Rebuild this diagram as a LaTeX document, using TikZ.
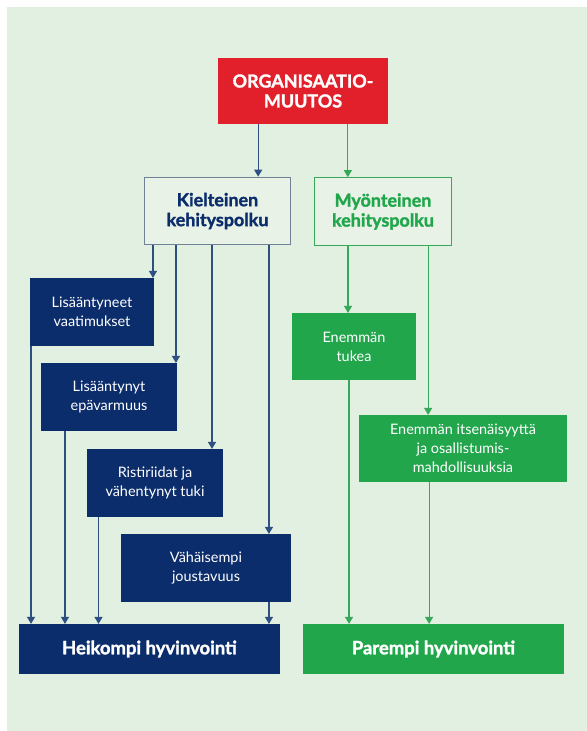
\documentclass[tikz,border=0pt]{standalone}
\usepackage{fontspec}
\setmainfont{Lato}
\newfontfamily\heavyfont{Lato}[BoldFeatures={FakeBold=1.5}]
\usetikzlibrary{arrows.meta}
\definecolor{navy}{HTML}{0C2D6B}
\definecolor{leaf}{HTML}{22A64C}
\definecolor{alarm}{HTML}{E1202B}
\definecolor{paper}{HTML}{E1F0E0}
\definecolor{pale}{HTML}{E8F2E7}
\definecolor{slate}{HTML}{6F8296}
\definecolor{navyline}{HTML}{2E4F82}
\definecolor{leafline}{HTML}{36A85A}
\begin{document}
\begin{tikzpicture}[x=1bp,y=-1bp,>={Triangle[length=7pt,width=8pt]},
  box/.style={rectangle, inner sep=0pt, align=center, text=white, font=\fontsize{14.5}{19}\selectfont},
  navybox/.style={box, fill=navy},
  leafbox/.style={box, fill=leaf},
  pathbox/.style={box, fill=pale, line width=1pt, font=\heavyfont\bfseries\fontsize{18}{20}\selectfont},
  endbox/.style={box, minimum width=261, minimum height=50, font=\heavyfont\bfseries\fontsize{18.5}{18}\selectfont},
  navyarrow/.style={->, navyline, line width=1.1pt},
  leafarrow/.style={->, leafline, line width=1.1pt}]
\useasboundingbox (0,0) rectangle (587,731);
\fill[paper] (7,7) rectangle (587,731);
\node[box, fill=alarm, minimum width=170, minimum height=66, font=\heavyfont\bfseries\fontsize{18}{20}\selectfont] (muutos) at (303,91) {ORGANISAATIO-\\MUUTOS};
\node[pathbox, draw=slate, text=navy, minimum width=147, minimum height=68] (kiel) at (217.5,211) {Kielteinen\\kehityspolku};
\node[pathbox, draw=leafline, text=leaf, minimum width=138, minimum height=68] (myon) at (383,211.5) {Myönteinen\\kehityspolku};
% kielteinen polku
\node[navybox, minimum width=124, minimum height=68] (vaat) at (92,312) {Lisääntyneet\\vaatimukset};
\node[navybox, minimum width=136, minimum height=68] (epav) at (109,397) {Lisääntynyt\\epävarmuus};
\node[navybox, minimum width=136, minimum height=68] (rist) at (155,483) {Ristiriidat ja\\vähentynyt tuki};
\node[navybox, minimum width=170, minimum height=68] (jous) at (206,568) {Vähäisempi\\joustavuus};
\node[endbox, fill=navy] (heik) at (149.5,649) {Heikompi hyvinvointi};
% myönteinen polku
\node[leafbox, minimum width=124, minimum height=67] (tuki) at (354,346.5) {Enemmän\\tukea};
\node[leafbox, minimum width=208, minimum height=67] (itse) at (463,448.5) {Enemmän itsenäisyyttä\\ja osallistumis-\\mahdollisuuksia};
\node[endbox, fill=leaf] (pare) at (433.5,649) {Parempi hyvinvointi};
\draw[navyarrow] ([xshift=-45]muutos.south) -- ([xshift=-45]muutos.south |- kiel.north);
\draw[leafarrow] ([xshift=45]muutos.south) -- ([xshift=45]muutos.south |- myon.north);
\draw[navyarrow] ([xshift=-1]vaat.north east |- kiel.south) -- ([xshift=-1]vaat.north east);
\draw[navyarrow] ([xshift=-1]epav.north east |- kiel.south) -- ([xshift=-1]epav.north east);
\draw[navyarrow] ([xshift=-11]rist.north east |- kiel.south) -- ([xshift=-11]rist.north east);
\draw[navyarrow] ([xshift=-22]jous.north east |- kiel.south) -- ([xshift=-22]jous.north east);
\draw[navyarrow] ([xshift=1]vaat.south west) -- ([xshift=1]vaat.south west |- heik.north);
\draw[navyarrow] ([xshift=24]epav.south west) -- ([xshift=24]epav.south west |- heik.north);
\draw[navyarrow] ([xshift=11.5]rist.south west) -- ([xshift=11.5]rist.south west |- heik.north);
\draw[navyarrow] ([xshift=-22]jous.south east) -- ([xshift=-22]jous.south east |- heik.north);
\draw[leafarrow] ([xshift=-6]tuki.north |- myon.south) -- ([xshift=-6]tuki.north);
\draw[leafarrow] ([xshift=-35]itse.north |- myon.south) -- ([xshift=-35]itse.north);
\draw[leafarrow] ([xshift=-5]tuki.south) -- ([xshift=-5]tuki.south |- pare.north);
\draw[leafarrow] ([xshift=-34]itse.south) -- ([xshift=-34]itse.south |- pare.north);
\end{tikzpicture}
\end{document}
